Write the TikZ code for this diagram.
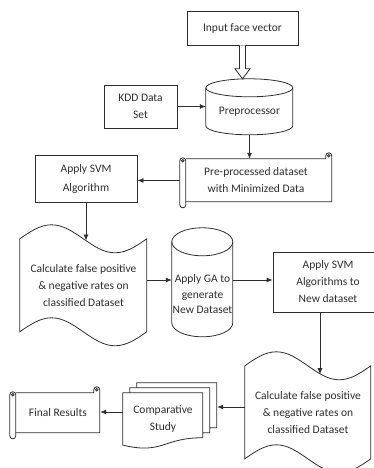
\documentclass[tikz,border=0pt]{standalone}
\usepackage{fontspec}
\setmainfont{Carlito}
\usetikzlibrary{calc,arrows.meta}
\definecolor{ink}{gray}{0.18}
\newcommand\labelfont{\fontsize{11.5}{17}\selectfont}
\tikzset{
  box/.style={draw=ink, line width=0.8pt, inner sep=0pt, align=center, font=\labelfont, text=ink},
  ghost/.style={inner sep=0pt, align=center, font=\labelfont, text=ink},
  arr/.style={draw=ink, line width=0.8pt, -{Latex[length=6pt,width=5pt]}},
  outline/.style={draw=ink, line width=0.8pt},
}
% scroll: node, W, H (node covers body incl. left tube)
\newcommand\scrollshape[3]{%
  \begin{scope}[shift={(#1.north west)}]
    \draw[outline] (6,0) -- ({#2-6},0) -- ({#2-6},-3) .. controls ({#2-6},-7) and (#2,-7) .. (#2,-3) -- (#2,#3) -- (6,#3);
    \draw[outline] ({#2-3},-3) circle[radius=1.3];
    \draw[outline] (0,2) -- (0,{#3+3}) .. controls (0,{#3+7}) and (6,{#3+7}) .. (6,{#3+3}) -- (6,2) .. controls (6,-2) and (0,-2) .. (0,2) -- cycle;
    \draw[outline] (3,2) circle[radius=1.3];
  \end{scope}}
% cylinder: node, W, H, ry
\newcommand\cylshape[4]{%
  \begin{scope}[shift={(#1.north west)}]
    \draw[outline] ({#2/2},#4) ellipse[x radius={#2/2}, y radius=#4];
    \draw[outline] (0,#4) -- (0,{#3-#4}) .. controls (0,{#3-#4+0.5523*#4}) and ({#2/2-0.5523*#2/2},#3) .. ({#2/2},#3) .. controls ({#2/2+0.5523*#2/2},#3) and (#2,{#3-#4+0.5523*#4}) .. (#2,{#3-#4}) -- (#2,#4);
  \end{scope}}
% punched tape: node, W, H, A
\newcommand\tapeshape[4]{%
  \begin{scope}[shift={(#1.north west)}]
    \draw[outline] (0,0) sin ({#2/4},-#4) cos ({#2/2},0) sin ({3*#2/4},#4) cos (#2,0) -- (#2,#3) sin ({3*#2/4},{#3+#4}) cos ({#2/2},#3) sin ({#2/4},{#3-#4}) cos (0,#3) -- cycle;
  \end{scope}}
% document: node, dx, dy, W, H
\newcommand\docshape[5]{%
  \begin{scope}[shift={(#1.north west)}]
    \draw[outline, fill=white] (#2,#3) -- ({#2+#4},#3) -- ({#2+#4},{#3+0.802*#5}) .. controls ({#2+#4/2},{#3+0.802*#5}) and ({#2+#4/2},{#3+1.107*#5}) .. (#2,{#3+0.934*#5}) -- cycle;
  \end{scope}}
\begin{document}
\begin{tikzpicture}[x=1pt,y=-1pt]
\useasboundingbox (0,0) rectangle (373,468);

\node[box, minimum width=111pt, minimum height=34pt] (input) at (242.5,28) {Input face vector};
\node[box, minimum width=73pt, minimum height=43pt] (kdd) at (140.5,106.5) {KDD Data\\Set};
\node[ghost, minimum width=87pt, minimum height=56pt] (pre) at (249.5,107) {};
\cylshape{pre}{87}{56}{9}
\node[ghost] (pretext) at ($(pre)+(0,5)$) {Preprocessor};

\node[ghost, minimum width=152pt, minimum height=43pt] (s1) at (256,180.5) {Pre-processed dataset\\with Minimized Data};
\scrollshape{s1}{152}{43}

\node[box, minimum width=102pt, minimum height=47pt] (svm1) at (86,178.5) {Apply SVM\\[2pt]Algorithm};

\node[ghost, minimum width=127pt, minimum height=93pt] (tapeL) at (83.5,285.5) {Calculate false positive\\\& negative rates on\\classified Dataset};
\tapeshape{tapeL}{127}{93}{14}

\node[ghost, minimum width=61pt, minimum height=109pt] (ga) at (202.5,282.5) {};
\cylshape{ga}{61}{109}{14}
\node[ghost, font=\fontsize{11.5}{15.5}\selectfont] (gatext) at ($(ga)+(0,12)$) {Apply GA to\\generate\\New Dataset};

\node[box, minimum width=110pt, minimum height=60pt] (svm2) at (328,282) {Apply SVM\\Algorithms to\\New dataset};

\node[ghost, minimum width=126pt, minimum height=93pt] (tapeR) at (308,412.5) {Calculate false positive\\\& negative rates on\\classified Dataset};
\tapeshape{tapeR}{126}{93}{14}

\node[ghost, minimum width=80pt, minimum height=56pt] (comp) at (163,421) {};
\docshape{comp}{14}{-10}{80}{56}
\docshape{comp}{7}{-5}{80}{56}
\docshape{comp}{0}{0}{80}{56}
\node[ghost] (comptext) at ($(comp)+(0,-2.5)$) {Comparative\\Study};

\node[ghost, minimum width=90pt, minimum height=40pt] (fin) at (55,413) {\hspace*{6pt}Final Results};
\scrollshape{fin}{90}{40}

% connectors
\coordinate (ha1) at (input.south);
\coordinate (ha2) at (input.south |- pre.north);
\draw[outline, fill=white] ($(ha1)+(-3,0)$) -- ($(ha2)+(-3,-10)$) -- ($(ha2)+(-7.5,-10)$) -- (ha2) -- ($(ha2)+(7.5,-10)$) -- ($(ha2)+(3,-10)$) -- ($(ha1)+(3,0)$);

\draw[arr] (kdd.east) -- (kdd.east -| pre.west);
\draw[arr] (pre.south) -- (pre.south |- s1.north);
\draw[arr] (s1.west) -- (s1.west -| svm1.east);
\coordinate (tLin) at ($(svm1.south |- tapeL.north)+(0,1.7)$);
\draw[arr] (svm1.south) -- (tLin);
\coordinate (lgA) at ($(tapeL.east)+(0,-5.5)$);
\coordinate (lgB) at (lgA -| ga.west);
\draw[arr] (lgA) -- (lgB);
\coordinate (gsA) at ($(ga.east)+(0,-2.5)$);
\coordinate (gsB) at (gsA -| svm2.west);
\draw[arr] (gsA) -- (gsB);
\coordinate (tRout) at ($(svm2.south)+(-8,0)$);
\coordinate (tRin) at ($(tapeR.north)+(12,8.4)$);
\draw[arr] (tRout) -- (tRin);
\coordinate (rcA) at ($(tapeR.west)+(0,-5.5)$);
\coordinate (rcB) at ($(comp.east)+(14,-14)$);
\draw[arr] (rcA) -- (rcB);
\coordinate (cfA) at ($(comp.west)+(0,-9)$);
\coordinate (cfB) at (cfA -| fin.east);
\draw[arr] (cfA) -- (cfB);
\end{tikzpicture}
\end{document}
